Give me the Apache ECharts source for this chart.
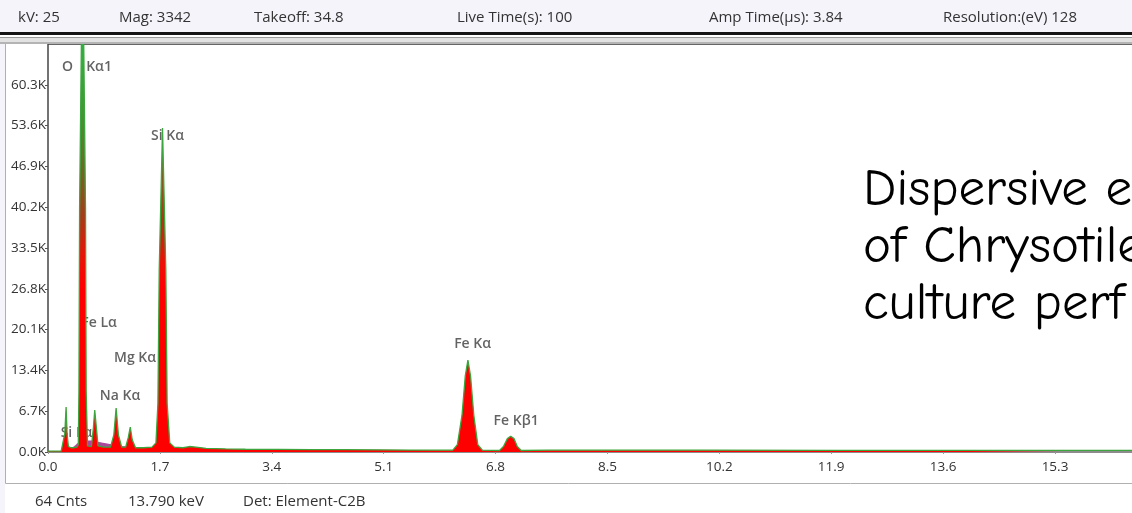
<!DOCTYPE html>
<html><head><meta charset="utf-8">
<script src="https://cdn.jsdelivr.net/npm/echarts@6/dist/echarts.min.js"></script>
<style>html,body{margin:0;padding:0;background:#fff;overflow:hidden}#c{width:1132px;height:513px}</style>
</head><body><div id="c"></div>
<script>
// ---- data ----
const energyKeV = [0.00,0.20,0.23,0.255,0.275,0.29,0.31,0.35,0.40,0.44,0.46,0.47,0.48,0.525,0.57,0.58,0.60,0.66,0.69,0.71,0.735,0.76,0.85,0.95,1.00,1.035,1.07,1.12,1.18,1.22,1.25,1.28,1.33,1.45,1.58,1.64,1.67,1.69,1.74,1.79,1.81,1.85,1.92,2.05,2.15,2.25,2.40,2.70,3.00,3.50,4.00,4.50,5.00,5.50,6.00,6.15,6.22,6.29,6.34,6.38,6.42,6.47,6.53,6.60,6.86,6.92,6.98,7.03,7.08,7.13,7.19,7.60,8.50,10.0,12.0,14.0,16.47];
const counts    = [150,150,400,3000,7400,3000,900,700,700,800,1200,10000,40000,85000,40000,10000,1000,900,4000,6900,4000,1000,800,800,2800,7200,2800,800,800,2400,4100,2000,700,700,800,1500,8000,30000,53200,30000,8000,1500,800,700,900,800,600,500,450,420,400,380,350,320,300,300,1200,6000,12500,15100,12500,6000,1200,300,250,900,2200,2600,2200,900,250,300,300,300,280,280,280];
const overlayKeV    = [0.30,0.40,0.50,0.65,0.80,1.00,1.20,1.45,1.70,1.90,2.10];
const overlayCounts = [0,1000,1700,1900,1600,1200,900,700,550,300,0];
const peakLabels      = ['O','K\u03b11','Si K\u03b1','Fe L\u03b1','Mg K\u03b1','Na K\u03b1','Si L\u03b1','Fe K\u03b1','Fe K\u03b21'];
const peakLabelKeV    = [0.296,0.775,1.816,0.775,1.322,1.094,0.433,6.451,7.112];
const peakLabelCounts = [63200,63200,51900,21200,15400,9200,3100,17700,5100];
const headerTexts = ['kV: 25','Mag: 3342','Takeoff: 34.8','Live Time(s): 100','Amp Time(\u03bcs): 3.84','Resolution:(eV) 128'];
const footerTexts = ['64 Cnts','13.790 keV','Det: Element-C2B'];
const noteLines   = ['Dispersive e','of Chrysotile','culture perf'];
const xTickStep = 1.7, yTickStep = 6700, yMax = 67000, xMax = 16.47;

// ---- layout (positions / styles) ----
const headerX = [18,119,254,457,709,943];
const footerX = [35,128,243];
const noteTopY = [164,221,278];
const uiFont = '"Open Sans","Liberation Sans",sans-serif';

const chart = echarts.init(document.getElementById('c'), null, {renderer:'canvas'});
const spectrum = energyKeV.map((e,i)=>[e,counts[i]]);
const overlay = overlayKeV.map((e,i)=>[e,overlayCounts[i]]);
const labelData = peakLabels.map((n,i)=>({name:n,value:[peakLabelKeV[i],peakLabelCounts[i]]}));

const graphics = [
  {type:'rect',z:100,shape:{x:0,y:0,width:1132,height:32},style:{fill:'#f4f4fa'}},
  {type:'rect',z:100,shape:{x:0,y:32,width:1132,height:3},style:{fill:'#141414'}},
  {type:'rect',z:100,shape:{x:0,y:35,width:1132,height:2},style:{fill:'#ffffff'}},
  {type:'rect',z:100,shape:{x:0,y:37,width:1132,height:1},style:{fill:'#9a9a9a'}},
  {type:'rect',z:100,shape:{x:0,y:38,width:1132,height:4},style:{fill:'#e2e2e2'}},
  {type:'rect',z:100,shape:{x:0,y:42,width:1132,height:2},style:{fill:'#b4b4b4'}},
  {type:'rect',z:0,shape:{x:0,y:44,width:5,height:469},style:{fill:'#f4f4fa'}},
  {type:'line',z:0,shape:{x1:5.5,y1:44,x2:5.5,y2:483.5},style:{stroke:'#b0b0b0',lineWidth:1}},
  {type:'line',z:0,shape:{x1:5.5,y1:483.5,x2:1132,y2:483.5},style:{stroke:'#b0b0b0',lineWidth:1}},
  {type:'line',z:0,shape:{x1:48,y1:44.5,x2:1132,y2:44.5},style:{stroke:'#666',lineWidth:1}}
];
headerTexts.forEach((t,i)=>graphics.push({type:'text',z:101,x:headerX[i],y:18,style:{text:t,fill:'#333',fontSize:15,fontFamily:uiFont,align:'left',verticalAlign:'middle'}}));
footerTexts.forEach((t,i)=>graphics.push({type:'text',z:101,x:footerX[i],y:502,style:{text:t,fill:'#333',fontSize:15,fontFamily:uiFont,align:'left',verticalAlign:'middle'}}));
noteLines.forEach((t,i)=>graphics.push({type:'text',z:101,x:863,y:noteTopY[i],style:{text:t,fill:'#000',fontSize:53,fontFamily:'"Comic Sans MS","Comic Neue","Open Sans",sans-serif',align:'left',verticalAlign:'top'}}));

chart.setOption({
  animation:false,
  backgroundColor:'#ffffff',
  grid:{left:48,right:0,top:44,bottom:61},
  xAxis:{type:'value',min:0,max:xMax,interval:xTickStep,
    splitLine:{show:false},
    axisLine:{show:true,lineStyle:{color:'#8c8c8c',width:2}},
    axisTick:{show:true,length:2,lineStyle:{color:'#999'}},
    axisLabel:{showMaxLabel:false,margin:8,color:'#333',fontSize:13.5,fontFamily:uiFont,formatter:v=>v.toFixed(1)}},
  yAxis:{type:'value',min:0,max:yMax,interval:yTickStep,
    splitLine:{show:false},
    axisLine:{show:true,lineStyle:{color:'#444',width:1.5}},
    axisTick:{show:true,length:3,lineStyle:{color:'#555'}},
    axisLabel:{showMaxLabel:false,margin:2,color:'#333',fontSize:13.5,fontFamily:uiFont,formatter:v=>(v/1000).toFixed(1)+'K'}},
  graphic:{elements:graphics},
  series:[
    {type:'line',z:0,data:overlay,showSymbol:false,symbol:'none',smooth:true,
      lineStyle:{width:0},areaStyle:{color:'#9c2a8c',opacity:0.85}},
    {type:'scatter',z:1,data:labelData,symbolSize:0,silent:true,
      label:{show:true,position:'inside',formatter:p=>p.name,color:'#3c3c3c',fontSize:14,fontWeight:600,fontFamily:uiFont}},
    {type:'line',z:3,data:spectrum,showSymbol:false,symbol:'none',clip:true,
      lineStyle:{color:'#3da53d',width:1.3},
      areaStyle:{opacity:1,color:new echarts.graphic.LinearGradient(0,44,0,452,[
        {offset:0,color:'#30b040'},{offset:0.15,color:'#3f9a35'},{offset:0.3,color:'#6e6a25'},
        {offset:0.42,color:'#a83a18'},{offset:0.52,color:'#e81408'},{offset:0.6,color:'#ff0000'},{offset:1,color:'#ff0000'}],true)}}
  ]
});
</script></body></html>
